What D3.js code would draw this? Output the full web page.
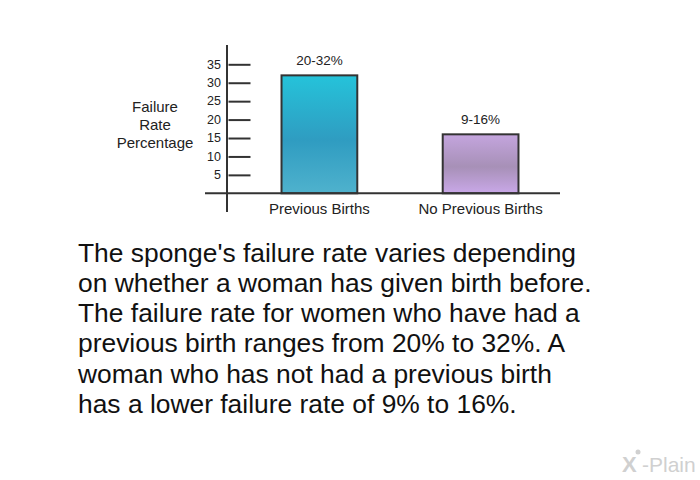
<!DOCTYPE html>
<html><head><meta charset="utf-8">
<script src="https://cdn.jsdelivr.net/npm/d3@7"></script>
<style>body{margin:0;background:#fff;} svg{display:block;font-family:"Liberation Sans",Arial,sans-serif;}</style>
</head><body>
<svg id="c" width="700" height="480"></svg>
<script>
const categories = ["Previous Births", "No Previous Births"];
const values = [32, 16];
const valueLabels = ["20-32%", "9-16%"];
const yTicks = [5, 10, 15, 20, 25, 30, 35];
const yLabelLines = ["Failure", "Rate", "Percentage"];
const paragraph = [
  "The sponge's failure rate varies depending",
  "on whether a woman has given birth before.",
  "The failure rate for women who have had a",
  "previous birth ranges from 20% to 32%. A",
  "woman who has not had a previous birth",
  "has a lower failure rate of 9% to 16%."
];
const gradients = [
  ["#25c3da", "#2f9cc1", "#4fb2cd"],
  ["#c4a5de", "#a790b7", "#c9a8e8"]
];

const svg = d3.select("#c");
const y = d3.scaleLinear().domain([0, 35]).range([193.3, 64.3]);
const x = d3.scaleBand().domain(categories).range([238, 562]).paddingInner(0.53).paddingOuter(0.27);

const defs = svg.append("defs");
gradients.forEach((g, i) => {
  const lg = defs.append("linearGradient").attr("id", "g" + i).attr("x1", 0).attr("x2", 0).attr("y1", 0).attr("y2", 1);
  lg.append("stop").attr("offset", "0%").attr("stop-color", g[0]);
  lg.append("stop").attr("offset", "55%").attr("stop-color", g[1]);
  lg.append("stop").attr("offset", "100%").attr("stop-color", g[2]);
});

// bars
svg.selectAll("rect.bar").data(values).enter().append("rect")
  .attr("class", "bar")
  .attr("x", (d, i) => x(categories[i]))
  .attr("width", x.bandwidth())
  .attr("y", d => y(d))
  .attr("height", d => y(0) - y(d))
  .attr("fill", (d, i) => `url(#g${i})`)
  .attr("stroke", "#333").attr("stroke-width", 2);

// value labels
svg.selectAll("text.val").data(values).enter().append("text")
  .attr("x", (d, i) => x(categories[i]) + x.bandwidth() / 2)
  .attr("y", d => y(d) - 10.5)
  .attr("text-anchor", "middle").attr("font-size", 13.5).attr("fill", "#222")
  .text((d, i) => valueLabels[i]);

// y axis
const yAxis = d3.axisRight(y).tickValues(yTicks).tickSize(22).tickFormat("");
const ya = svg.append("g").attr("transform", "translate(228.5,0)").call(yAxis);
ya.select(".domain").remove();
ya.selectAll(".tick line").attr("stroke", "#333").attr("stroke-width", 2);
svg.selectAll("text.yt").data(yTicks).enter().append("text")
  .attr("x", 221).attr("y", d => y(d) + 4.2)
  .attr("text-anchor", "end").attr("font-size", 12.5).attr("fill", "#222")
  .text(d => d);
svg.append("line").attr("x1", 227).attr("x2", 227).attr("y1", 45).attr("y2", 212)
  .attr("stroke", "#333").attr("stroke-width", 2);
svg.append("line").attr("x1", 205).attr("x2", 560).attr("y1", y(0)).attr("y2", y(0))
  .attr("stroke", "#333").attr("stroke-width", 2);

// category labels
svg.selectAll("text.cat").data(categories).enter().append("text")
  .attr("x", d => x(d) + x.bandwidth() / 2).attr("y", 213.5)
  .attr("text-anchor", "middle").attr("font-size", 15).attr("fill", "#222")
  .text(d => d);

// y label
svg.selectAll("text.yl").data(yLabelLines).enter().append("text")
  .attr("x", 155).attr("y", (d, i) => 111.5 + i * 18)
  .attr("text-anchor", "middle").attr("font-size", 15).attr("fill", "#222")
  .text(d => d);

// paragraph
svg.selectAll("text.p").data(paragraph).enter().append("text")
  .attr("x", 78).attr("y", (d, i) => 261.7 + i * 30.2)
  .attr("font-size", 26.4).attr("fill", "#111")
  .text(d => d);

// logo
svg.append("text").attr("x", 622).attr("y", 472).attr("font-size", 22).attr("fill", "#d0d0d0")
  .attr("font-weight", "bold").text("X");
svg.append("circle").attr("cx", 638).attr("cy", 452).attr("r", 2.5).attr("fill", "#d0d0d0");
svg.append("text").attr("x", 642).attr("y", 472).attr("font-size", 21).attr("fill", "#d0d0d0")
  .text("-Plain");
</script>
</body></html>
